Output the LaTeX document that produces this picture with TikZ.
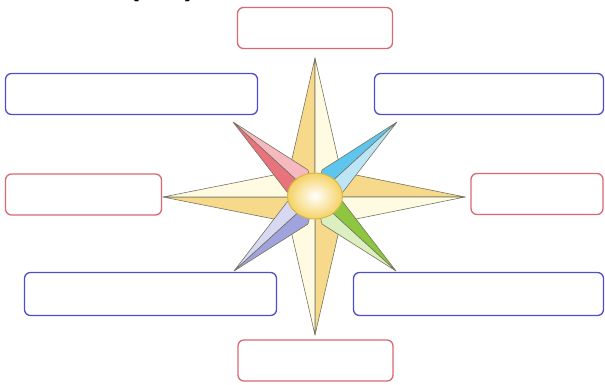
\documentclass[tikz,border=0pt]{standalone}
\usepackage{xcolor}
\usepackage{fontspec}
\setsansfont{Liberation Sans}
\usepackage{tikz}
\usetikzlibrary{calc,shapes.geometric}
\definecolor{boxred}{RGB}{218,104,114}
\definecolor{boxblue}{RGB}{78,78,200}
\definecolor{armline}{RGB}{118,116,96}
\definecolor{sunA}{RGB}{247,217,139}
\definecolor{sunB}{RGB}{255,251,227}
\definecolor{redA}{RGB}{233,115,125}
\definecolor{redB}{RGB}{246,185,191}
\definecolor{cyanA}{RGB}{94,198,238}
\definecolor{cyanB}{RGB}{188,230,248}
\definecolor{greenA}{RGB}{141,198,63}
\definecolor{greenB}{RGB}{220,239,192}
\definecolor{violetA}{RGB}{160,163,220}
\definecolor{violetB}{RGB}{215,216,242}
\definecolor{hubrim}{RGB}{212,184,74}
\definecolor{hubfill}{RGB}{245,210,100}

\begin{document}
\begin{tikzpicture}[x=1pt,y=1pt]
\tikzset{
    blank/.style={draw,rounded corners=6pt,line width=1.3pt,fill=white,
        minimum height=41pt,inner sep=0pt},
    redblank/.style={blank,draw=boxred},
    blueblank/.style={blank,draw=boxblue},
    arm/.style={draw=armline,line width=0.6pt,line join=round}
}
\useasboundingbox (0,0) rectangle (605,384);

\node[inner sep=0pt,anchor=south,font=\sffamily\bfseries\fontsize{30}{36}\selectfont]
    (title) at (162,382) {(\hspace{46pt})};

\coordinate (c) at (315,187);
\coordinate (tn) at (315,326);
\coordinate (ts) at (315,49);
\coordinate (tw) at (163,187);
\coordinate (te) at (465,187);
\coordinate (tnw) at (233,262);
\coordinate (tne) at (397,262);
\coordinate (tsw) at (234,113);
\coordinate (tse) at (396,113);

\coordinate (ine) at (341,212);
\coordinate (inw) at (289,212);
\coordinate (isw) at (289,162);
\coordinate (ise) at (341,162);

\filldraw[arm,fill=sunA] (c) -- (tn) -- (inw) -- cycle;
\filldraw[arm,fill=sunB] (c) -- (tn) -- (ine) -- cycle;
\filldraw[arm,fill=sunA] (c) -- (te) -- (ine) -- cycle;
\filldraw[arm,fill=sunB] (c) -- (te) -- (ise) -- cycle;
\filldraw[arm,fill=sunA] (c) -- (ts) -- (ise) -- cycle;
\filldraw[arm,fill=sunB] (c) -- (ts) -- (isw) -- cycle;
\filldraw[arm,fill=sunA] (c) -- (tw) -- (isw) -- cycle;
\filldraw[arm,fill=sunB] (c) -- (tw) -- (inw) -- cycle;

\filldraw[arm,fill=redB] (c) -- (tnw) -- (307.9,214.1) -- cycle;
\filldraw[arm,fill=redA] (c) -- (tnw) -- (287.4,191.6) -- cycle;
\filldraw[arm,fill=cyanA] (c) -- (tne) -- (322.1,214.1) -- cycle;
\filldraw[arm,fill=cyanB] (c) -- (tne) -- (342.6,191.6) -- cycle;
\filldraw[arm,fill=violetB] (c) -- (tsw) -- (287.4,182.4) -- cycle;
\filldraw[arm,fill=violetA] (c) -- (tsw) -- (307.9,159.9) -- cycle;
\filldraw[arm,fill=greenA] (c) -- (tse) -- (342.6,182.4) -- cycle;
\filldraw[arm,fill=greenB] (c) -- (tse) -- (322.1,159.9) -- cycle;

\node[ellipse,minimum width=55pt,minimum height=46pt,inner sep=0pt,
    draw=hubrim,line width=1pt,shade,inner color=white,outer color=hubfill]
    (hub) at (315,188) {};

\node[redblank,minimum width=155pt] (north) at (315,356) {};
\node[redblank,minimum width=155pt] (south) at (315.5,23.5) {};
\node[redblank,minimum width=156pt] (west) at (83.5,189.5) {};
\node[redblank,minimum width=132pt] (east) at (537,190) {};
\node[blueblank,minimum width=252pt] (northwest) at (131.5,290) {};
\node[blueblank,minimum width=229pt] (northeast) at (489,290) {};
\node[blueblank,minimum width=252pt,minimum height=43pt] (southwest) at (150.5,90) {};
\node[blueblank,minimum width=250pt,minimum height=43pt] (southeast) at (478.5,90) {};

\end{tikzpicture}
\end{document}
